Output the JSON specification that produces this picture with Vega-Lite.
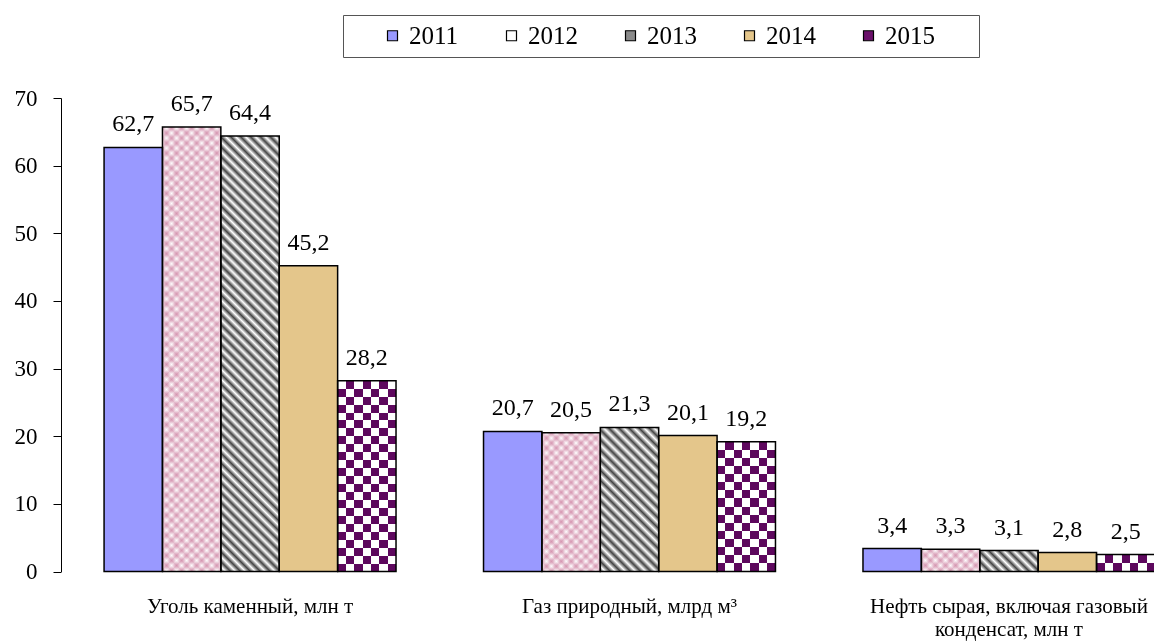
{
  "$schema": "https://vega.github.io/schema/vega-lite/v6.json",
  "width": 1093,
  "height": 473.5,
  "autosize": "none",
  "padding": {"left": 61, "top": 98, "right": 0, "bottom": 70.5},
  "background": "white",
  "config": {
    "view": {"stroke": null},
    "font": "Liberation Serif",
    "locale": {"number": {"decimal": ",", "thousands": " ", "grouping": [3], "currency": ["", ""]}}
  },
  "data": {
    "values": [
      {"cat": "Уголь каменный, млн т", "year": "2011", "value": 62.7},
      {"cat": "Уголь каменный, млн т", "year": "2012", "value": 65.7},
      {"cat": "Уголь каменный, млн т", "year": "2013", "value": 64.4},
      {"cat": "Уголь каменный, млн т", "year": "2014", "value": 45.2},
      {"cat": "Уголь каменный, млн т", "year": "2015", "value": 28.2},
      {"cat": "Газ природный, млрд м³", "year": "2011", "value": 20.7},
      {"cat": "Газ природный, млрд м³", "year": "2012", "value": 20.5},
      {"cat": "Газ природный, млрд м³", "year": "2013", "value": 21.3},
      {"cat": "Газ природный, млрд м³", "year": "2014", "value": 20.1},
      {"cat": "Газ природный, млрд м³", "year": "2015", "value": 19.2},
      {"cat": "Нефть сырая, включая газовый конденсат, млн т", "year": "2011", "value": 3.4},
      {"cat": "Нефть сырая, включая газовый конденсат, млн т", "year": "2012", "value": 3.3},
      {"cat": "Нефть сырая, включая газовый конденсат, млн т", "year": "2013", "value": 3.1},
      {"cat": "Нефть сырая, включая газовый конденсат, млн т", "year": "2014", "value": 2.8},
      {"cat": "Нефть сырая, включая газовый конденсат, млн т", "year": "2015", "value": 2.5}
    ]
  },
  "encoding": {
    "x": {
      "field": "cat",
      "type": "nominal",
      "scale": {
        "domain": ["Уголь каменный, млн т", "Газ природный, млрд м³", "Нефть сырая, включая газовый конденсат, млн т"],
        "range": [0, 1137],
        "paddingInner": 0.2306,
        "paddingOuter": 0.1135
      },
      "axis": {
        "title": null,
        "domain": false,
        "ticks": false,
        "labelAngle": 0,
        "labelFontSize": 21,
        "labelColor": "black",
        "labelPadding": 24,
        "labelBaseline": "top",
        "labelLineHeight": 23,
        "labelLimit": 0,
        "labelExpr": "datum.value == 'Нефть сырая, включая газовый конденсат, млн т' ? ['Нефть сырая, включая газовый', 'конденсат, млн т'] : datum.label"
      }
    },
    "xOffset": {
      "field": "year",
      "type": "nominal",
      "scale": {"domain": ["2011", "2012", "2013", "2014", "2015"], "paddingInner": 0, "paddingOuter": 0}
    },
    "y": {
      "field": "value",
      "type": "quantitative",
      "scale": {"domain": [0, 70]},
      "axis": {
        "title": null,
        "values": [0, 10, 20, 30, 40, 50, 60, 70],
        "grid": false,
        "domainColor": "black",
        "tickColor": "black",
        "tickSize": 8,
        "labelFontSize": 23,
        "labelColor": "black",
        "labelPadding": 16
      }
    }
  },
  "layer": [
    {
      "mark": {"type": "bar"},
      "encoding": {
        "fill": {
          "field": "year",
          "type": "nominal",
          "scale": {
            "domain": ["2011", "2012", "2013", "2014", "2015"],
            "range": ["#9999ff", "#ffffff", "#8a8a8a", "#e4c68b", "#6a106a"]
          },
          "legend": {
            "title": " ",
            "titleOrient": "left",
            "titleFontSize": 25,
            "titlePadding": 29,
            "orient": "none",
            "legendX": 282,
            "legendY": -83,
            "direction": "horizontal",
            "columns": 5,
            "symbolType": "square",
            "symbolSize": 100,
            "symbolStrokeColor": "black",
            "symbolStrokeWidth": 1.2,
            "labelFontSize": 25,
            "labelColor": "black",
            "labelOffset": 4,
            "labelExpr": "datum.label == '2015' ? datum.label + '\u2800\u2800' : datum.label",
            "columnPadding": 40,
            "padding": 8,
            "strokeColor": "#555555",
            "fillColor": "white"
          }
        }
      }
    },
    {
      "transform": [{"filter": "datum.year == '2012' && indexof(datum.cat, 'Уголь') == 0"}],
      "mark": {"type": "bar", "fill": {"gradient": "linear", "x1": 0, "y1": 0, "x2": 0.14613, "y2": 1.11218, "stops": [
        {"offset":0,"color":"#aa285f4a"},{"offset":0.01,"color":"#aa285f00"},{"offset":0.02,"color":"#aa285f4a"},{"offset":0.03,"color":"#aa285f00"},{"offset":0.04,"color":"#aa285f4a"},{"offset":0.05,"color":"#aa285f00"},{"offset":0.06,"color":"#aa285f4a"},{"offset":0.07,"color":"#aa285f00"},{"offset":0.08,"color":"#aa285f4a"},{"offset":0.09,"color":"#aa285f00"},
        {"offset":0.1,"color":"#aa285f4a"},{"offset":0.11,"color":"#aa285f00"},{"offset":0.12,"color":"#aa285f4a"},{"offset":0.13,"color":"#aa285f00"},{"offset":0.14,"color":"#aa285f4a"},{"offset":0.15,"color":"#aa285f00"},{"offset":0.16,"color":"#aa285f4a"},{"offset":0.17,"color":"#aa285f00"},{"offset":0.18,"color":"#aa285f4a"},{"offset":0.19,"color":"#aa285f00"},
        {"offset":0.2,"color":"#aa285f4a"},{"offset":0.21,"color":"#aa285f00"},{"offset":0.22,"color":"#aa285f4a"},{"offset":0.23,"color":"#aa285f00"},{"offset":0.24,"color":"#aa285f4a"},{"offset":0.25,"color":"#aa285f00"},{"offset":0.26,"color":"#aa285f4a"},{"offset":0.27,"color":"#aa285f00"},{"offset":0.28,"color":"#aa285f4a"},{"offset":0.29,"color":"#aa285f00"},
        {"offset":0.3,"color":"#aa285f4a"},{"offset":0.31,"color":"#aa285f00"},{"offset":0.32,"color":"#aa285f4a"},{"offset":0.33,"color":"#aa285f00"},{"offset":0.34,"color":"#aa285f4a"},{"offset":0.35,"color":"#aa285f00"},{"offset":0.36,"color":"#aa285f4a"},{"offset":0.37,"color":"#aa285f00"},{"offset":0.38,"color":"#aa285f4a"},{"offset":0.39,"color":"#aa285f00"},
        {"offset":0.4,"color":"#aa285f4a"},{"offset":0.41,"color":"#aa285f00"},{"offset":0.42,"color":"#aa285f4a"},{"offset":0.43,"color":"#aa285f00"},{"offset":0.44,"color":"#aa285f4a"},{"offset":0.45,"color":"#aa285f00"},{"offset":0.46,"color":"#aa285f4a"},{"offset":0.47,"color":"#aa285f00"},{"offset":0.48,"color":"#aa285f4a"},{"offset":0.49,"color":"#aa285f00"},
        {"offset":0.5,"color":"#aa285f4a"},{"offset":0.51,"color":"#aa285f00"},{"offset":0.52,"color":"#aa285f4a"},{"offset":0.53,"color":"#aa285f00"},{"offset":0.54,"color":"#aa285f4a"},{"offset":0.55,"color":"#aa285f00"},{"offset":0.56,"color":"#aa285f4a"},{"offset":0.57,"color":"#aa285f00"},{"offset":0.58,"color":"#aa285f4a"},{"offset":0.59,"color":"#aa285f00"},
        {"offset":0.6,"color":"#aa285f4a"},{"offset":0.61,"color":"#aa285f00"},{"offset":0.62,"color":"#aa285f4a"},{"offset":0.63,"color":"#aa285f00"},{"offset":0.64,"color":"#aa285f4a"},{"offset":0.65,"color":"#aa285f00"},{"offset":0.66,"color":"#aa285f4a"},{"offset":0.67,"color":"#aa285f00"},{"offset":0.68,"color":"#aa285f4a"},{"offset":0.69,"color":"#aa285f00"},
        {"offset":0.7,"color":"#aa285f4a"},{"offset":0.71,"color":"#aa285f00"},{"offset":0.72,"color":"#aa285f4a"},{"offset":0.73,"color":"#aa285f00"},{"offset":0.74,"color":"#aa285f4a"},{"offset":0.75,"color":"#aa285f00"},{"offset":0.76,"color":"#aa285f4a"},{"offset":0.77,"color":"#aa285f00"},{"offset":0.78,"color":"#aa285f4a"},{"offset":0.79,"color":"#aa285f00"},
        {"offset":0.8,"color":"#aa285f4a"},{"offset":0.81,"color":"#aa285f00"},{"offset":0.82,"color":"#aa285f4a"},{"offset":0.83,"color":"#aa285f00"},{"offset":0.84,"color":"#aa285f4a"},{"offset":0.85,"color":"#aa285f00"},{"offset":0.86,"color":"#aa285f4a"},{"offset":0.87,"color":"#aa285f00"},{"offset":0.88,"color":"#aa285f4a"},{"offset":0.89,"color":"#aa285f00"},
        {"offset":0.9,"color":"#aa285f4a"},{"offset":0.91,"color":"#aa285f00"},{"offset":0.92,"color":"#aa285f4a"},{"offset":0.93,"color":"#aa285f00"},{"offset":0.94,"color":"#aa285f4a"},{"offset":0.95,"color":"#aa285f00"},{"offset":0.96,"color":"#aa285f4a"},{"offset":0.97,"color":"#aa285f00"},{"offset":0.98,"color":"#aa285f4a"},{"offset":0.99,"color":"#aa285f00"},{"offset":1,"color":"#aa285f4a"}
      ]}}
    },
    {
      "transform": [{"filter": "datum.year == '2012' && indexof(datum.cat, 'Уголь') == 0"}],
      "mark": {"type": "bar", "fill": {"gradient": "linear", "x1": 0, "y1": 1, "x2": 0.14613, "y2": -0.11218, "stops": [
        {"offset":0,"color":"#aa285f4a"},{"offset":0.01,"color":"#aa285f00"},{"offset":0.02,"color":"#aa285f4a"},{"offset":0.03,"color":"#aa285f00"},{"offset":0.04,"color":"#aa285f4a"},{"offset":0.05,"color":"#aa285f00"},{"offset":0.06,"color":"#aa285f4a"},{"offset":0.07,"color":"#aa285f00"},{"offset":0.08,"color":"#aa285f4a"},{"offset":0.09,"color":"#aa285f00"},
        {"offset":0.1,"color":"#aa285f4a"},{"offset":0.11,"color":"#aa285f00"},{"offset":0.12,"color":"#aa285f4a"},{"offset":0.13,"color":"#aa285f00"},{"offset":0.14,"color":"#aa285f4a"},{"offset":0.15,"color":"#aa285f00"},{"offset":0.16,"color":"#aa285f4a"},{"offset":0.17,"color":"#aa285f00"},{"offset":0.18,"color":"#aa285f4a"},{"offset":0.19,"color":"#aa285f00"},
        {"offset":0.2,"color":"#aa285f4a"},{"offset":0.21,"color":"#aa285f00"},{"offset":0.22,"color":"#aa285f4a"},{"offset":0.23,"color":"#aa285f00"},{"offset":0.24,"color":"#aa285f4a"},{"offset":0.25,"color":"#aa285f00"},{"offset":0.26,"color":"#aa285f4a"},{"offset":0.27,"color":"#aa285f00"},{"offset":0.28,"color":"#aa285f4a"},{"offset":0.29,"color":"#aa285f00"},
        {"offset":0.3,"color":"#aa285f4a"},{"offset":0.31,"color":"#aa285f00"},{"offset":0.32,"color":"#aa285f4a"},{"offset":0.33,"color":"#aa285f00"},{"offset":0.34,"color":"#aa285f4a"},{"offset":0.35,"color":"#aa285f00"},{"offset":0.36,"color":"#aa285f4a"},{"offset":0.37,"color":"#aa285f00"},{"offset":0.38,"color":"#aa285f4a"},{"offset":0.39,"color":"#aa285f00"},
        {"offset":0.4,"color":"#aa285f4a"},{"offset":0.41,"color":"#aa285f00"},{"offset":0.42,"color":"#aa285f4a"},{"offset":0.43,"color":"#aa285f00"},{"offset":0.44,"color":"#aa285f4a"},{"offset":0.45,"color":"#aa285f00"},{"offset":0.46,"color":"#aa285f4a"},{"offset":0.47,"color":"#aa285f00"},{"offset":0.48,"color":"#aa285f4a"},{"offset":0.49,"color":"#aa285f00"},
        {"offset":0.5,"color":"#aa285f4a"},{"offset":0.51,"color":"#aa285f00"},{"offset":0.52,"color":"#aa285f4a"},{"offset":0.53,"color":"#aa285f00"},{"offset":0.54,"color":"#aa285f4a"},{"offset":0.55,"color":"#aa285f00"},{"offset":0.56,"color":"#aa285f4a"},{"offset":0.57,"color":"#aa285f00"},{"offset":0.58,"color":"#aa285f4a"},{"offset":0.59,"color":"#aa285f00"},
        {"offset":0.6,"color":"#aa285f4a"},{"offset":0.61,"color":"#aa285f00"},{"offset":0.62,"color":"#aa285f4a"},{"offset":0.63,"color":"#aa285f00"},{"offset":0.64,"color":"#aa285f4a"},{"offset":0.65,"color":"#aa285f00"},{"offset":0.66,"color":"#aa285f4a"},{"offset":0.67,"color":"#aa285f00"},{"offset":0.68,"color":"#aa285f4a"},{"offset":0.69,"color":"#aa285f00"},
        {"offset":0.7,"color":"#aa285f4a"},{"offset":0.71,"color":"#aa285f00"},{"offset":0.72,"color":"#aa285f4a"},{"offset":0.73,"color":"#aa285f00"},{"offset":0.74,"color":"#aa285f4a"},{"offset":0.75,"color":"#aa285f00"},{"offset":0.76,"color":"#aa285f4a"},{"offset":0.77,"color":"#aa285f00"},{"offset":0.78,"color":"#aa285f4a"},{"offset":0.79,"color":"#aa285f00"},
        {"offset":0.8,"color":"#aa285f4a"},{"offset":0.81,"color":"#aa285f00"},{"offset":0.82,"color":"#aa285f4a"},{"offset":0.83,"color":"#aa285f00"},{"offset":0.84,"color":"#aa285f4a"},{"offset":0.85,"color":"#aa285f00"},{"offset":0.86,"color":"#aa285f4a"},{"offset":0.87,"color":"#aa285f00"},{"offset":0.88,"color":"#aa285f4a"},{"offset":0.89,"color":"#aa285f00"},
        {"offset":0.9,"color":"#aa285f4a"},{"offset":0.91,"color":"#aa285f00"},{"offset":0.92,"color":"#aa285f4a"},{"offset":0.93,"color":"#aa285f00"},{"offset":0.94,"color":"#aa285f4a"},{"offset":0.95,"color":"#aa285f00"},{"offset":0.96,"color":"#aa285f4a"},{"offset":0.97,"color":"#aa285f00"},{"offset":0.98,"color":"#aa285f4a"},{"offset":0.99,"color":"#aa285f00"},{"offset":1,"color":"#aa285f4a"}
      ]}}
    },
    {
      "transform": [{"filter": "datum.year == '2012' && indexof(datum.cat, 'Газ') == 0"}],
      "mark": {"type": "bar", "fill": {"gradient": "linear", "x1": 0, "y1": 0, "x2": 0.50826, "y2": 1.20705, "stops": [
        {"offset":0,"color":"#aa285f4a"},{"offset":0.025,"color":"#aa285f00"},{"offset":0.05,"color":"#aa285f4a"},{"offset":0.075,"color":"#aa285f00"},{"offset":0.1,"color":"#aa285f4a"},{"offset":0.125,"color":"#aa285f00"},{"offset":0.15,"color":"#aa285f4a"},{"offset":0.175,"color":"#aa285f00"},{"offset":0.2,"color":"#aa285f4a"},{"offset":0.225,"color":"#aa285f00"},
        {"offset":0.25,"color":"#aa285f4a"},{"offset":0.275,"color":"#aa285f00"},{"offset":0.3,"color":"#aa285f4a"},{"offset":0.325,"color":"#aa285f00"},{"offset":0.35,"color":"#aa285f4a"},{"offset":0.375,"color":"#aa285f00"},{"offset":0.4,"color":"#aa285f4a"},{"offset":0.425,"color":"#aa285f00"},{"offset":0.45,"color":"#aa285f4a"},{"offset":0.475,"color":"#aa285f00"},
        {"offset":0.5,"color":"#aa285f4a"},{"offset":0.525,"color":"#aa285f00"},{"offset":0.55,"color":"#aa285f4a"},{"offset":0.575,"color":"#aa285f00"},{"offset":0.6,"color":"#aa285f4a"},{"offset":0.625,"color":"#aa285f00"},{"offset":0.65,"color":"#aa285f4a"},{"offset":0.675,"color":"#aa285f00"},{"offset":0.7,"color":"#aa285f4a"},{"offset":0.725,"color":"#aa285f00"},
        {"offset":0.75,"color":"#aa285f4a"},{"offset":0.775,"color":"#aa285f00"},{"offset":0.8,"color":"#aa285f4a"},{"offset":0.825,"color":"#aa285f00"},{"offset":0.85,"color":"#aa285f4a"},{"offset":0.875,"color":"#aa285f00"},{"offset":0.9,"color":"#aa285f4a"},{"offset":0.925,"color":"#aa285f00"},{"offset":0.95,"color":"#aa285f4a"},{"offset":0.975,"color":"#aa285f00"},{"offset":1,"color":"#aa285f4a"}
      ]}}
    },
    {
      "transform": [{"filter": "datum.year == '2012' && indexof(datum.cat, 'Газ') == 0"}],
      "mark": {"type": "bar", "fill": {"gradient": "linear", "x1": 0, "y1": 1, "x2": 0.50826, "y2": -0.20705, "stops": [
        {"offset":0,"color":"#aa285f4a"},{"offset":0.025,"color":"#aa285f00"},{"offset":0.05,"color":"#aa285f4a"},{"offset":0.075,"color":"#aa285f00"},{"offset":0.1,"color":"#aa285f4a"},{"offset":0.125,"color":"#aa285f00"},{"offset":0.15,"color":"#aa285f4a"},{"offset":0.175,"color":"#aa285f00"},{"offset":0.2,"color":"#aa285f4a"},{"offset":0.225,"color":"#aa285f00"},
        {"offset":0.25,"color":"#aa285f4a"},{"offset":0.275,"color":"#aa285f00"},{"offset":0.3,"color":"#aa285f4a"},{"offset":0.325,"color":"#aa285f00"},{"offset":0.35,"color":"#aa285f4a"},{"offset":0.375,"color":"#aa285f00"},{"offset":0.4,"color":"#aa285f4a"},{"offset":0.425,"color":"#aa285f00"},{"offset":0.45,"color":"#aa285f4a"},{"offset":0.475,"color":"#aa285f00"},
        {"offset":0.5,"color":"#aa285f4a"},{"offset":0.525,"color":"#aa285f00"},{"offset":0.55,"color":"#aa285f4a"},{"offset":0.575,"color":"#aa285f00"},{"offset":0.6,"color":"#aa285f4a"},{"offset":0.625,"color":"#aa285f00"},{"offset":0.65,"color":"#aa285f4a"},{"offset":0.675,"color":"#aa285f00"},{"offset":0.7,"color":"#aa285f4a"},{"offset":0.725,"color":"#aa285f00"},
        {"offset":0.75,"color":"#aa285f4a"},{"offset":0.775,"color":"#aa285f00"},{"offset":0.8,"color":"#aa285f4a"},{"offset":0.825,"color":"#aa285f00"},{"offset":0.85,"color":"#aa285f4a"},{"offset":0.875,"color":"#aa285f00"},{"offset":0.9,"color":"#aa285f4a"},{"offset":0.925,"color":"#aa285f00"},{"offset":0.95,"color":"#aa285f4a"},{"offset":0.975,"color":"#aa285f00"},{"offset":1,"color":"#aa285f4a"}
      ]}}
    },
    {
      "transform": [{"filter": "datum.year == '2012' && indexof(datum.cat, 'Нефть') == 0"}],
      "mark": {"type": "bar", "fill": {"gradient": "linear", "x1": 0, "y1": 0, "x2": 1.20604, "y2": 0.46102, "stops": [
        {"offset":0,"color":"#aa285f4a"},{"offset":0.0625,"color":"#aa285f00"},{"offset":0.125,"color":"#aa285f4a"},{"offset":0.1875,"color":"#aa285f00"},{"offset":0.25,"color":"#aa285f4a"},{"offset":0.3125,"color":"#aa285f00"},{"offset":0.375,"color":"#aa285f4a"},{"offset":0.4375,"color":"#aa285f00"},{"offset":0.5,"color":"#aa285f4a"},
        {"offset":0.5625,"color":"#aa285f00"},{"offset":0.625,"color":"#aa285f4a"},{"offset":0.6875,"color":"#aa285f00"},{"offset":0.75,"color":"#aa285f4a"},{"offset":0.8125,"color":"#aa285f00"},{"offset":0.875,"color":"#aa285f4a"},{"offset":0.9375,"color":"#aa285f00"},{"offset":1,"color":"#aa285f4a"}
      ]}}
    },
    {
      "transform": [{"filter": "datum.year == '2012' && indexof(datum.cat, 'Нефть') == 0"}],
      "mark": {"type": "bar", "fill": {"gradient": "linear", "x1": 0, "y1": 1, "x2": 1.20604, "y2": 0.53898, "stops": [
        {"offset":0,"color":"#aa285f4a"},{"offset":0.0625,"color":"#aa285f00"},{"offset":0.125,"color":"#aa285f4a"},{"offset":0.1875,"color":"#aa285f00"},{"offset":0.25,"color":"#aa285f4a"},{"offset":0.3125,"color":"#aa285f00"},{"offset":0.375,"color":"#aa285f4a"},{"offset":0.4375,"color":"#aa285f00"},{"offset":0.5,"color":"#aa285f4a"},
        {"offset":0.5625,"color":"#aa285f00"},{"offset":0.625,"color":"#aa285f4a"},{"offset":0.6875,"color":"#aa285f00"},{"offset":0.75,"color":"#aa285f4a"},{"offset":0.8125,"color":"#aa285f00"},{"offset":0.875,"color":"#aa285f4a"},{"offset":0.9375,"color":"#aa285f00"},{"offset":1,"color":"#aa285f4a"}
      ]}}
    },
    {
      "transform": [{"filter": "datum.year == '2013' && indexof(datum.cat, 'Уголь') == 0"}],
      "mark": {"type": "bar", "fill": {"gradient": "linear", "x1": 0, "y1": 1, "x2": 0.14932, "y2": -0.11401, "stops": [
        {"offset":0,"color":"#444"},{"offset":0.01,"color":"#fff"},{"offset":0.02,"color":"#444"},{"offset":0.03,"color":"#fff"},{"offset":0.04,"color":"#444"},{"offset":0.05,"color":"#fff"},{"offset":0.06,"color":"#444"},{"offset":0.07,"color":"#fff"},{"offset":0.08,"color":"#444"},{"offset":0.09,"color":"#fff"},
        {"offset":0.1,"color":"#444"},{"offset":0.11,"color":"#fff"},{"offset":0.12,"color":"#444"},{"offset":0.13,"color":"#fff"},{"offset":0.14,"color":"#444"},{"offset":0.15,"color":"#fff"},{"offset":0.16,"color":"#444"},{"offset":0.17,"color":"#fff"},{"offset":0.18,"color":"#444"},{"offset":0.19,"color":"#fff"},
        {"offset":0.2,"color":"#444"},{"offset":0.21,"color":"#fff"},{"offset":0.22,"color":"#444"},{"offset":0.23,"color":"#fff"},{"offset":0.24,"color":"#444"},{"offset":0.25,"color":"#fff"},{"offset":0.26,"color":"#444"},{"offset":0.27,"color":"#fff"},{"offset":0.28,"color":"#444"},{"offset":0.29,"color":"#fff"},
        {"offset":0.3,"color":"#444"},{"offset":0.31,"color":"#fff"},{"offset":0.32,"color":"#444"},{"offset":0.33,"color":"#fff"},{"offset":0.34,"color":"#444"},{"offset":0.35,"color":"#fff"},{"offset":0.36,"color":"#444"},{"offset":0.37,"color":"#fff"},{"offset":0.38,"color":"#444"},{"offset":0.39,"color":"#fff"},
        {"offset":0.4,"color":"#444"},{"offset":0.41,"color":"#fff"},{"offset":0.42,"color":"#444"},{"offset":0.43,"color":"#fff"},{"offset":0.44,"color":"#444"},{"offset":0.45,"color":"#fff"},{"offset":0.46,"color":"#444"},{"offset":0.47,"color":"#fff"},{"offset":0.48,"color":"#444"},{"offset":0.49,"color":"#fff"},
        {"offset":0.5,"color":"#444"},{"offset":0.51,"color":"#fff"},{"offset":0.52,"color":"#444"},{"offset":0.53,"color":"#fff"},{"offset":0.54,"color":"#444"},{"offset":0.55,"color":"#fff"},{"offset":0.56,"color":"#444"},{"offset":0.57,"color":"#fff"},{"offset":0.58,"color":"#444"},{"offset":0.59,"color":"#fff"},
        {"offset":0.6,"color":"#444"},{"offset":0.61,"color":"#fff"},{"offset":0.62,"color":"#444"},{"offset":0.63,"color":"#fff"},{"offset":0.64,"color":"#444"},{"offset":0.65,"color":"#fff"},{"offset":0.66,"color":"#444"},{"offset":0.67,"color":"#fff"},{"offset":0.68,"color":"#444"},{"offset":0.69,"color":"#fff"},
        {"offset":0.7,"color":"#444"},{"offset":0.71,"color":"#fff"},{"offset":0.72,"color":"#444"},{"offset":0.73,"color":"#fff"},{"offset":0.74,"color":"#444"},{"offset":0.75,"color":"#fff"},{"offset":0.76,"color":"#444"},{"offset":0.77,"color":"#fff"},{"offset":0.78,"color":"#444"},{"offset":0.79,"color":"#fff"},
        {"offset":0.8,"color":"#444"},{"offset":0.81,"color":"#fff"},{"offset":0.82,"color":"#444"},{"offset":0.83,"color":"#fff"},{"offset":0.84,"color":"#444"},{"offset":0.85,"color":"#fff"},{"offset":0.86,"color":"#444"},{"offset":0.87,"color":"#fff"},{"offset":0.88,"color":"#444"},{"offset":0.89,"color":"#fff"},
        {"offset":0.9,"color":"#444"},{"offset":0.91,"color":"#fff"},{"offset":0.92,"color":"#444"},{"offset":0.93,"color":"#fff"},{"offset":0.94,"color":"#444"},{"offset":0.95,"color":"#fff"},{"offset":0.96,"color":"#444"},{"offset":0.97,"color":"#fff"},{"offset":0.98,"color":"#444"},{"offset":0.99,"color":"#fff"},{"offset":1,"color":"#444"}
      ]}}
    },
    {
      "transform": [{"filter": "datum.year == '2013' && indexof(datum.cat, 'Газ') == 0"}],
      "mark": {"type": "bar", "fill": {"gradient": "linear", "x1": 0, "y1": 1, "x2": 0.48916, "y2": -0.20702, "stops": [
        {"offset":0,"color":"#444"},{"offset":0.025,"color":"#fff"},{"offset":0.05,"color":"#444"},{"offset":0.075,"color":"#fff"},{"offset":0.1,"color":"#444"},{"offset":0.125,"color":"#fff"},{"offset":0.15,"color":"#444"},{"offset":0.175,"color":"#fff"},{"offset":0.2,"color":"#444"},{"offset":0.225,"color":"#fff"},
        {"offset":0.25,"color":"#444"},{"offset":0.275,"color":"#fff"},{"offset":0.3,"color":"#444"},{"offset":0.325,"color":"#fff"},{"offset":0.35,"color":"#444"},{"offset":0.375,"color":"#fff"},{"offset":0.4,"color":"#444"},{"offset":0.425,"color":"#fff"},{"offset":0.45,"color":"#444"},{"offset":0.475,"color":"#fff"},
        {"offset":0.5,"color":"#444"},{"offset":0.525,"color":"#fff"},{"offset":0.55,"color":"#444"},{"offset":0.575,"color":"#fff"},{"offset":0.6,"color":"#444"},{"offset":0.625,"color":"#fff"},{"offset":0.65,"color":"#444"},{"offset":0.675,"color":"#fff"},{"offset":0.7,"color":"#444"},{"offset":0.725,"color":"#fff"},
        {"offset":0.75,"color":"#444"},{"offset":0.775,"color":"#fff"},{"offset":0.8,"color":"#444"},{"offset":0.825,"color":"#fff"},{"offset":0.85,"color":"#444"},{"offset":0.875,"color":"#fff"},{"offset":0.9,"color":"#444"},{"offset":0.925,"color":"#fff"},{"offset":0.95,"color":"#444"},{"offset":0.975,"color":"#fff"},{"offset":1,"color":"#444"}
      ]}}
    },
    {
      "transform": [{"filter": "datum.year == '2013' && indexof(datum.cat, 'Нефть') == 0"}],
      "mark": {"type": "bar", "fill": {"gradient": "linear", "x1": 0, "y1": 1, "x2": 1.20387, "y2": 0.56764, "stops": [
        {"offset":0,"color":"#444"},{"offset":0.0625,"color":"#fff"},{"offset":0.125,"color":"#444"},{"offset":0.1875,"color":"#fff"},{"offset":0.25,"color":"#444"},{"offset":0.3125,"color":"#fff"},{"offset":0.375,"color":"#444"},{"offset":0.4375,"color":"#fff"},{"offset":0.5,"color":"#444"},
        {"offset":0.5625,"color":"#fff"},{"offset":0.625,"color":"#444"},{"offset":0.6875,"color":"#fff"},{"offset":0.75,"color":"#444"},{"offset":0.8125,"color":"#fff"},{"offset":0.875,"color":"#444"},{"offset":0.9375,"color":"#fff"},{"offset":1,"color":"#444"}
      ]}}
    },
    {
      "transform": [{"filter": "datum.year == '2015' && indexof(datum.cat, 'Уголь') == 0"}],
      "mark": {"type": "bar", "fill": {"gradient": "linear", "x1": 0, "y1": 0, "x2": 0, "y2": 1, "stops": [
        {"offset":0,"color":"#fff"},{"offset":0.0417,"color":"#fff"},{"offset":0.0417,"color":"#000"},{"offset":0.0833,"color":"#000"},{"offset":0.0833,"color":"#fff"},{"offset":0.125,"color":"#fff"},{"offset":0.125,"color":"#000"},{"offset":0.1667,"color":"#000"},
        {"offset":0.1667,"color":"#fff"},{"offset":0.2083,"color":"#fff"},{"offset":0.2083,"color":"#000"},{"offset":0.25,"color":"#000"},{"offset":0.25,"color":"#fff"},{"offset":0.2917,"color":"#fff"},{"offset":0.2917,"color":"#000"},{"offset":0.3333,"color":"#000"},
        {"offset":0.3333,"color":"#fff"},{"offset":0.375,"color":"#fff"},{"offset":0.375,"color":"#000"},{"offset":0.4167,"color":"#000"},{"offset":0.4167,"color":"#fff"},{"offset":0.4583,"color":"#fff"},{"offset":0.4583,"color":"#000"},{"offset":0.5,"color":"#000"},
        {"offset":0.5,"color":"#fff"},{"offset":0.5417,"color":"#fff"},{"offset":0.5417,"color":"#000"},{"offset":0.5833,"color":"#000"},{"offset":0.5833,"color":"#fff"},{"offset":0.625,"color":"#fff"},{"offset":0.625,"color":"#000"},{"offset":0.6667,"color":"#000"},
        {"offset":0.6667,"color":"#fff"},{"offset":0.7083,"color":"#fff"},{"offset":0.7083,"color":"#000"},{"offset":0.75,"color":"#000"},{"offset":0.75,"color":"#fff"},{"offset":0.7917,"color":"#fff"},{"offset":0.7917,"color":"#000"},{"offset":0.8333,"color":"#000"},
        {"offset":0.8333,"color":"#fff"},{"offset":0.875,"color":"#fff"},{"offset":0.875,"color":"#000"},{"offset":0.9167,"color":"#000"},{"offset":0.9167,"color":"#fff"},{"offset":0.9583,"color":"#fff"},{"offset":0.9583,"color":"#000"},{"offset":1,"color":"#000"}
      ]}}
    },
    {
      "transform": [{"filter": "datum.year == '2015' && indexof(datum.cat, 'Газ') == 0"}],
      "mark": {"type": "bar", "fill": {"gradient": "linear", "x1": 0, "y1": 0, "x2": 0, "y2": 1, "stops": [
        {"offset":0,"color":"#fff"},{"offset":0.0625,"color":"#fff"},{"offset":0.0625,"color":"#000"},{"offset":0.125,"color":"#000"},{"offset":0.125,"color":"#fff"},{"offset":0.1875,"color":"#fff"},{"offset":0.1875,"color":"#000"},{"offset":0.25,"color":"#000"},
        {"offset":0.25,"color":"#fff"},{"offset":0.3125,"color":"#fff"},{"offset":0.3125,"color":"#000"},{"offset":0.375,"color":"#000"},{"offset":0.375,"color":"#fff"},{"offset":0.4375,"color":"#fff"},{"offset":0.4375,"color":"#000"},{"offset":0.5,"color":"#000"},
        {"offset":0.5,"color":"#fff"},{"offset":0.5625,"color":"#fff"},{"offset":0.5625,"color":"#000"},{"offset":0.625,"color":"#000"},{"offset":0.625,"color":"#fff"},{"offset":0.6875,"color":"#fff"},{"offset":0.6875,"color":"#000"},{"offset":0.75,"color":"#000"},
        {"offset":0.75,"color":"#fff"},{"offset":0.8125,"color":"#fff"},{"offset":0.8125,"color":"#000"},{"offset":0.875,"color":"#000"},{"offset":0.875,"color":"#fff"},{"offset":0.9375,"color":"#fff"},{"offset":0.9375,"color":"#000"},{"offset":1,"color":"#000"}
      ]}}
    },
    {
      "transform": [{"filter": "datum.year == '2015' && indexof(datum.cat, 'Нефть') == 0"}],
      "mark": {"type": "bar", "fill": {"gradient": "linear", "x1": 0, "y1": 0, "x2": 0, "y2": 1, "stops": [
        {"offset":0,"color":"#fff"},{"offset":0.5,"color":"#fff"},{"offset":0.5,"color":"#000"},{"offset":1,"color":"#000"}
      ]}}
    },
    {
      "transform": [{"filter": "datum.year == '2015'"}],
      "mark": {"type": "bar", "blend": "difference", "fill": {"gradient": "linear", "x1": 0, "y1": 0, "x2": 1, "y2": 0, "stops": [
        {"offset":0,"color":"#000"},{"offset":0.1429,"color":"#000"},{"offset":0.1429,"color":"#fff"},{"offset":0.2857,"color":"#fff"},{"offset":0.2857,"color":"#000"},{"offset":0.4286,"color":"#000"},{"offset":0.4286,"color":"#fff"},
        {"offset":0.5714,"color":"#fff"},{"offset":0.5714,"color":"#000"},{"offset":0.7143,"color":"#000"},{"offset":0.7143,"color":"#fff"},{"offset":0.8571,"color":"#fff"},{"offset":0.8571,"color":"#000"},{"offset":1,"color":"#000"}
      ]}}
    },
    {
      "transform": [{"filter": "datum.year == '2015'"}],
      "mark": {"type": "bar", "blend": "screen", "fill": "#5e085e"}
    },
    {
      "mark": {"type": "bar", "fillOpacity": 0, "stroke": "black", "strokeWidth": 1.5}
    },
    {
      "mark": {"type": "text", "baseline": "alphabetic", "dy": -16, "fontSize": 24, "color": "black"},
      "encoding": {"text": {"field": "value", "type": "quantitative", "format": ".1f"}}
    }
  ]
}
